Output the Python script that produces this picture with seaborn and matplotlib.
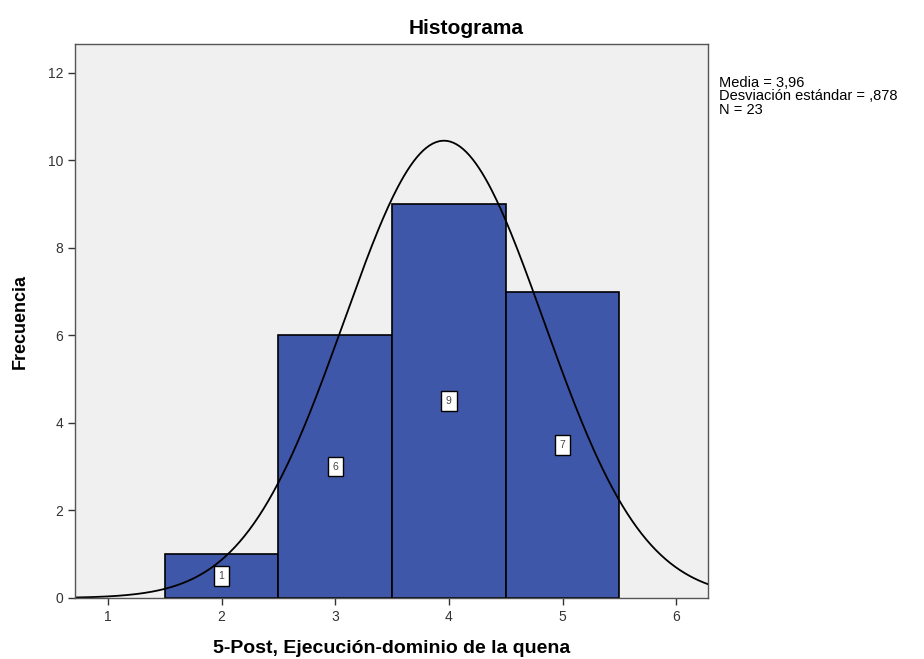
import numpy as np
import pandas as pd
import matplotlib
matplotlib.use("Agg")
import matplotlib.pyplot as plt
import seaborn as sns

# Scores and their frequencies
scores = [2, 3, 4, 5]
counts = [1, 6, 9, 7]
x_ticks = [1, 2, 3, 4, 5, 6]
y_ticks = [0, 2, 4, 6, 8, 10, 12]

values = np.repeat(scores, counts)
df = pd.DataFrame({"score": values})
n = len(values)
mean = values.mean()
sd = values.std(ddof=1)

sns.set_theme(style="white")
plt.rcParams["font.family"] = ["Liberation Sans", "DejaVu Sans"]

fig = plt.figure(figsize=(9.24, 6.59), dpi=100)
ax = fig.add_axes([0.0812, 0.0926, 0.685, 0.8405])
ax.set_facecolor("#F0F0F0")

sns.histplot(data=df, x="score", discrete=True, ax=ax,
             color="#3F57A8", alpha=1, edgecolor="black", linewidth=1.2)

# Normal curve scaled to counts (bin width 1)
xs = np.linspace(0.7, 6.3, 400)
ys = n * np.exp(-0.5 * ((xs - mean) / sd) ** 2) / (sd * np.sqrt(2 * np.pi))
sns.lineplot(x=xs, y=ys, ax=ax, color="black", linewidth=1.3)

# Count labels in the middle of each bar
for s, c in zip(scores, counts):
    ax.text(s, c / 2, str(c), ha="center", va="center", fontsize=7.5,
            color="#444444",
            bbox=dict(boxstyle="square,pad=0.45", fc="white", ec="black", lw=1.0))

ax.set_xlim(0.71, 6.28)
ax.set_ylim(0, 12.66)
ax.set_xticks(x_ticks)
ax.set_yticks(y_ticks)
ax.tick_params(axis="both", direction="out", length=5, width=1, labelsize=10,
               colors="#333333", bottom=True, left=True)
for sp in ax.spines.values():
    sp.set_color("#555555")
    sp.set_linewidth(1)

fig.text(0.505, 0.957, "Histograma", fontsize=15, fontweight="bold",
         ha="center", va="center", color="black")
ax.set_xlabel("5-Post, Ejecución-dominio de la quena", fontsize=14,
              fontweight="bold", labelpad=12, color="black")
ax.set_ylabel("Frecuencia", fontsize=13, fontweight="bold", labelpad=14,
              color="black")

fig.text(0.778, 0.885,
         f"Media = {mean:.2f}".replace(".", ",") + "\n"
         + "Desviación estándar = " + f"{sd:.3f}".lstrip("0").replace(".", ",") + "\n"
         + f"N = {n}",
         fontsize=10.5, va="top", ha="left", linespacing=0.95, color="black")

fig.savefig("out.png", dpi=100)
